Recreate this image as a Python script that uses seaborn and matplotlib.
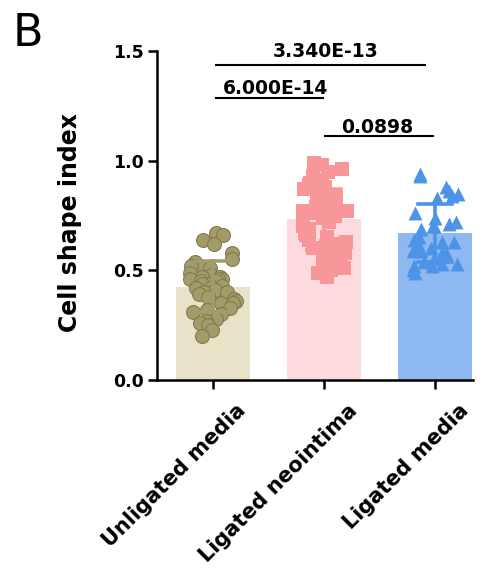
import numpy as np
import pandas as pd
import matplotlib.pyplot as plt
import matplotlib.transforms as mtransforms
import seaborn as sns

# data
groups = ['Unligated media', 'Ligated neointima', 'Ligated media']
unligated_media = [0.67, 0.66, 0.64, 0.62, 0.58,
                   0.55, 0.54, 0.52, 0.52, 0.51,
                   0.49, 0.48, 0.47, 0.47, 0.46, 0.46, 0.46, 0.45, 0.45, 0.44, 0.44,
                   0.43, 0.42, 0.42, 0.41, 0.40, 0.40, 0.39,
                   0.38, 0.37, 0.36, 0.35, 0.35,
                   0.33, 0.32, 0.31, 0.30,
                   0.28, 0.27, 0.26, 0.25,
                   0.23, 0.20]
ligated_neointima = [0.99, 0.98, 0.96, 0.95, 0.93, 0.92, 0.91, 0.90, 0.89, 0.88, 0.87, 0.86, 0.85,
                     0.84, 0.83, 0.82, 0.81, 0.80, 0.80, 0.79, 0.79, 0.78, 0.78, 0.77, 0.77, 0.77,
                     0.76, 0.76, 0.75, 0.75, 0.74,
                     0.72, 0.71, 0.70, 0.69, 0.68, 0.67, 0.66, 0.65, 0.64, 0.63, 0.62, 0.61, 0.60,
                     0.60, 0.58, 0.58, 0.57, 0.55, 0.55, 0.53, 0.52, 0.51, 0.50, 0.49, 0.47]
ligated_media = [0.94, 0.93, 0.88, 0.86, 0.85, 0.84, 0.83, 0.76, 0.74, 0.72, 0.71, 0.70, 0.70, 0.69,
                 0.65, 0.64, 0.63, 0.63, 0.62, 0.60, 0.59, 0.59, 0.58, 0.58,
                 0.55, 0.54, 0.53, 0.53, 0.52, 0.52, 0.50, 0.49]
pvalues = ['3.340E-13', '6.000E-14', '0.0898']

bar_colors = ['#E8E2C8', '#FDDADE', '#8DB9F0']
point_colors = ['#A39C6A', '#F8979A', '#4D93E8']
edge_colors = ['#807A4E', '#F8979A', '#4D93E8']
markers = ['o', 's', '^']

df = pd.DataFrame({
    'group': [groups[0]] * len(unligated_media) + [groups[1]] * len(ligated_neointima)
             + [groups[2]] * len(ligated_media),
    'value': unligated_media + ligated_neointima + ligated_media,
})

plt.rcParams['font.family'] = 'DejaVu Sans'
plt.rcParams['font.weight'] = 'bold'

fig = plt.figure(figsize=(4.87, 5.70), dpi=100)
ax = fig.add_axes([0.3224, 0.3333, 0.6489, 0.5772])

sns.barplot(data=df, x='group', y='value', hue='group', order=groups, hue_order=groups,
            palette=bar_colors, saturation=1, width=0.667, errorbar='sd', capsize=0.3,
            err_kws={'linewidth': 2.6}, legend=False, ax=ax)
for line, c in zip(ax.lines, point_colors):
    line.set_color(c)
    line.set_zorder(4)

np.random.seed(3)
for g, m, c, ec in zip(groups, markers, point_colors, edge_colors):
    sub = df[df['group'] == g]
    sns.stripplot(data=sub, x='group', y='value', order=groups, marker=m, color=c,
                  edgecolor=ec, linewidth=0.8 if m == 'o' else 0, size=10,
                  jitter=0.22, ax=ax, zorder=3)

# significance brackets
brackets = [(0.03, 1.91, 1.436, 1.01, 1.473, pvalues[0]),
            (0.03, 0.99, 1.286, 0.56, 1.304, pvalues[1]),
            (1.01, 1.98, 1.113, 1.48, 1.126, pvalues[2])]
for x0, x1, yl, xt, yt, txt in brackets:
    ax.plot([x0, x1], [yl, yl], color='black', lw=1.5, clip_on=False)
    ax.text(xt, yt, txt, ha='center', va='baseline', fontsize=13.5,
            fontweight='bold', clip_on=False)

ax.set_xlim(-0.505, 2.342)
ax.set_ylim(0, 1.5)
ax.set_yticks([0, 0.5, 1.0, 1.5])
ax.set_yticklabels(['0.0', '0.5', '1.0', '1.5'])
ax.set_ylabel('Cell shape index', fontsize=17, fontweight='bold')
ax.yaxis.set_label_coords(-0.237, 0.48)
ax.set_xlabel('')
sns.despine(ax=ax)
for s in ['left', 'bottom']:
    ax.spines[s].set_linewidth(1.8)
ax.tick_params(axis='both', length=6.5, width=1.8, color='black')
ax.tick_params(axis='y', labelsize=12.5, pad=3)
ax.tick_params(axis='x', labelsize=15, pad=8)

offset = mtransforms.ScaledTranslation(0.37, 0, fig.dpi_scale_trans)
for lab in ax.get_xticklabels():
    lab.set_rotation(45)
    lab.set_ha('right')
    lab.set_fontweight('bold')
    lab.set_transform(lab.get_transform() + offset)
for lab in ax.get_yticklabels():
    lab.set_fontweight('bold')

fig.text(0.025, 0.92, 'B', fontsize=32, fontweight='normal')

fig.savefig('out.png', dpi=100)
